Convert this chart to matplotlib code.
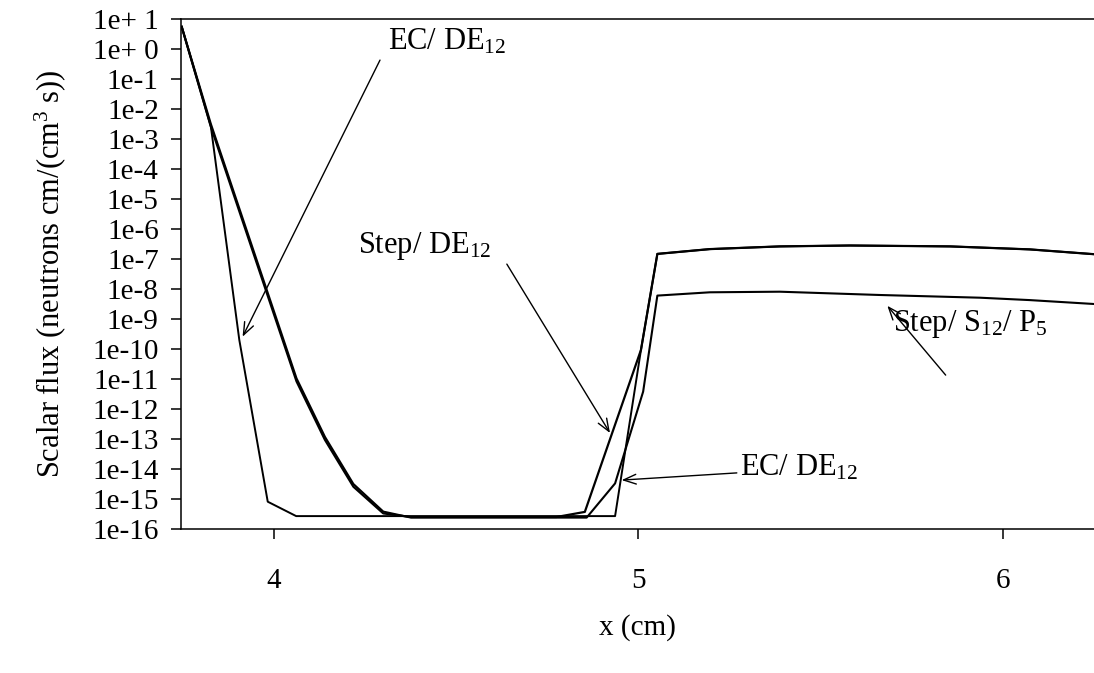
import numpy as np
import matplotlib
matplotlib.use("Agg")
import matplotlib.pyplot as plt

plt.rcParams['font.family'] = ['Liberation Serif', 'DejaVu Serif']
plt.rcParams['mathtext.fontset'] = 'custom'
plt.rcParams['mathtext.rm'] = 'Liberation Serif'
plt.rcParams['mathtext.it'] = 'Liberation Serif:italic'
plt.rcParams['mathtext.default'] = 'regular'

# данные (x в см, log10 потока)
x_ec = [3.747, 3.827, 3.905, 3.983, 4.061, 4.936, 5.007, 5.052, 5.196, 5.388, 5.580, 5.855, 6.074, 6.25]
logy_ec = [0.74, -2.59, -9.70, -15.09, -15.57, -15.57, -10.03, -6.83, -6.67, -6.58, -6.55, -6.58, -6.68, -6.84]

x_step_de = [3.747, 3.827, 4.062, 4.140, 4.218, 4.300, 4.376, 4.775, 4.853, 5.007, 5.052, 5.196, 5.388, 5.580, 5.855, 6.074, 6.25]
logy_step_de = [0.74, -2.59, -11.08, -13.03, -14.59, -15.48, -15.60, -15.60, -15.43, -10.03, -6.83, -6.67, -6.58, -6.55, -6.58, -6.68, -6.84]

x_step_sp = [3.747, 3.827, 4.062, 4.140, 4.218, 4.300, 4.376, 4.858, 4.936, 5.013, 5.052, 5.196, 5.388, 5.663, 5.937, 6.074, 6.25]
logy_step_sp = [0.74, -2.50, -10.98, -12.93, -14.50, -15.42, -15.62, -15.62, -14.48, -11.42, -8.22, -8.11, -8.09, -8.20, -8.29, -8.37, -8.50]

ytick_labels = ['1e+ 1', '1e+ 0', '1e-1', '1e-2', '1e-3', '1e-4', '1e-5', '1e-6', '1e-7',
                '1e-8', '1e-9', '1e-10', '1e-11', '1e-12', '1e-13', '1e-14', '1e-15', '1e-16']
xticks = [4, 5, 6]

fs = 21

fig = plt.figure(figsize=(10.94, 6.73), dpi=100)
ax = fig.add_axes([181 / 1094, 1 - 529 / 673, 1 - 181 / 1094, (529 - 19) / 673])

ax.plot(x_ec, 10 ** np.array(logy_ec), color='black', lw=1.4)
ax.plot(x_step_de, 10 ** np.array(logy_step_de), color='black', lw=1.6)
ax.plot(x_step_sp, 10 ** np.array(logy_step_sp), color='black', lw=1.5)

ax.set_yscale('log')
ax.set_xlim(3.745, 6.25)
ax.set_ylim(1e-16, 10)

yvals = [10.0 ** k for k in range(1, -17, -1)]
ax.set_yticks(yvals)
ax.set_yticklabels(ytick_labels)
ax.yaxis.set_minor_locator(matplotlib.ticker.NullLocator())
ax.set_xticks(xticks)
ax.set_xticklabels([str(v) for v in xticks])

ax.tick_params(axis='y', direction='out', length=7, width=1.1, pad=9, labelsize=fs)
ax.tick_params(axis='x', direction='out', length=7, width=1.1, pad=21, labelsize=fs)
for side in ['left', 'bottom', 'top']:
    ax.spines[side].set_linewidth(1.1)
ax.spines['right'].set_visible(False)

ax.set_ylabel('Scalar flux (neutrons cm/(cm$^3$ s))', fontsize=fs + 1, va='center')
ax.yaxis.set_label_coords(-0.143, 0.5)
ax.set_xlabel('x (cm)', fontsize=fs, va='center')
ax.xaxis.set_label_coords(0.5, -0.194)

# подписи и стрелки
arrow = dict(arrowstyle='->,head_length=0.9,head_width=0.35', color='black', lw=1.0,
             shrinkA=0, shrinkB=0)
ax.text(4.313, 10 ** 0.0, 'EC/ DE$_{12}$', fontsize=fs + 1, ha='left', va='baseline')
ax.annotate('', xy=(3.914, 10 ** -9.59), xytext=(4.291, 10 ** -0.37), arrowprops=arrow)

ax.text(4.231, 10 ** -6.8, 'Step/ DE$_{12}$', fontsize=fs + 1, ha='left', va='baseline')
ax.annotate('', xy=(4.922, 10 ** -12.8), xytext=(4.639, 10 ** -7.17), arrowprops=arrow)

ax.text(5.698, 10 ** -9.4, 'Step/ S$_{12}$/ P$_5$', fontsize=fs + 1, ha='left', va='baseline')
ax.annotate('', xy=(5.683, 10 ** -8.56), xytext=(5.843, 10 ** -10.87), arrowprops=arrow)

ax.text(5.279, 10 ** -14.23, 'EC/ DE$_{12}$', fontsize=fs + 1, ha='left', va='baseline')
ax.annotate('', xy=(4.954, 10 ** -14.37), xytext=(5.270, 10 ** -14.13), arrowprops=arrow)

fig.savefig('out.png', dpi=100)
